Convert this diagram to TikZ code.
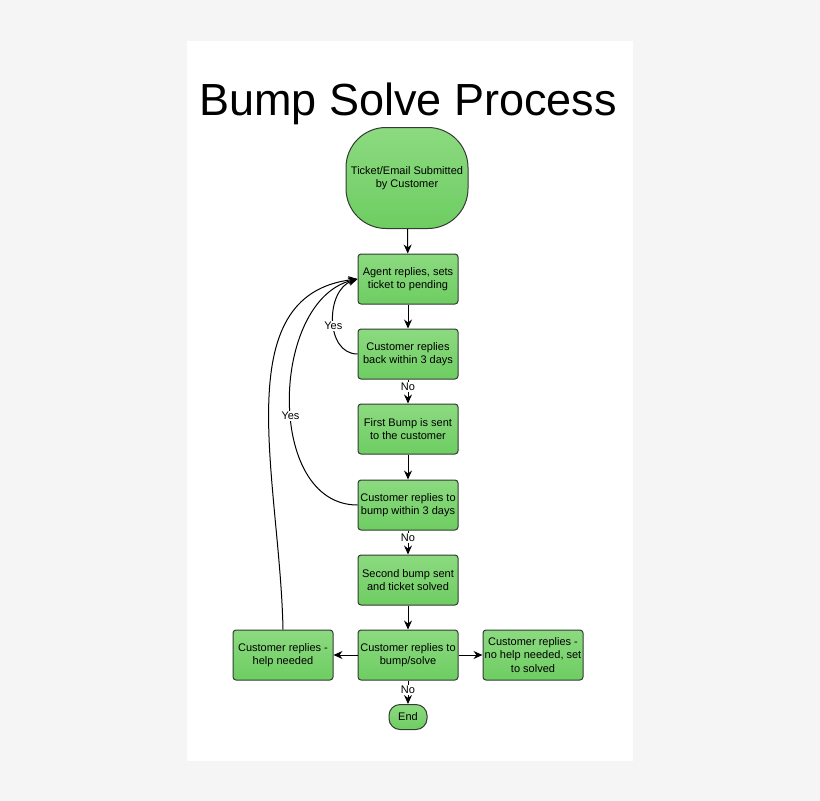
\documentclass[tikz,border=0pt]{standalone}
\usepackage{fontspec}
\setmainfont{Liberation Sans}
\usetikzlibrary{arrows.meta}
\definecolor{bg}{RGB}{245,245,245}
\definecolor{gfill}{RGB}{110,205,98}
\definecolor{gfill2}{RGB}{140,218,128}
\definecolor{edge}{RGB}{50,60,50}
\begin{document}
\begin{tikzpicture}[x=1pt,y=-1pt,
  box/.style={draw=edge,line width=1pt,rounded corners=3pt,top color=gfill2,bottom color=gfill,
    minimum width=100pt,minimum height=50pt,align=center,font=\fontsize{11}{13.5}\selectfont,inner sep=1pt},
  arr/.style={-{Stealth[length=9pt,width=8pt]},line width=1pt,black},
  lab/.style={fill=white,font=\fontsize{11}{12}\selectfont,inner sep=1pt}]
\fill[bg] (0,0) rectangle (820,801);
\useasboundingbox (0,0) rectangle (820,801);
\fill[white] (187,41) rectangle (633,761);
\node[font=\fontsize{45}{52}\selectfont] (title) at (408,104) {Bump Solve Process};
\node[box,minimum width=122pt,minimum height=101pt,rounded corners=40pt] (s) at (407,178) {Ticket/Email Submitted\\by Customer};
\node[box] (a) at (408,279) {Agent replies, sets\\ticket to pending};
\node[box] (b) at (408,354) {Customer replies\\back within 3 days};
\node[box] (c) at (408,429) {First Bump is sent\\to the customer};
\node[box] (d) at (408,505) {Customer replies to\\bump within 3 days};
\node[box] (e) at (408,580) {Second bump sent\\and ticket solved};
\node[box] (f) at (408,655) {Customer replies to\\bump/solve};
\node[box] (l) at (283,655) {Customer replies -\\help needed};
\node[box] (r) at (533,655) {Customer replies -\\no help needed, set\\to solved};
\node[box,minimum width=38pt,minimum height=25pt,rounded corners=11pt] (end) at (408,717) {End};
\draw[arr] (s) -- (a);
\draw[arr] (a) -- (b);
\draw[arr] (b) -- node[lab,pos=0.3]{No} (c);
\draw[arr] (c) -- (d);
\draw[arr] (d) -- node[lab,pos=0.3]{No} (e);
\draw[arr] (e) -- (f);
\draw[arr] (f) -- node[lab,pos=0.4]{No} (end);
\draw[arr] (f) -- (l);
\draw[arr] (f) -- (r);
\draw[arr] (b.west) .. controls (325,354) and (325,290) .. node[lab,pos=0.45]{Yes} (a.west);
\draw[arr] (d.west) .. controls (265,505) and (270,300) .. node[lab,pos=0.45]{Yes} (a.west);
\draw[arr] (l.north) .. controls (280,480) and (225,295) .. (a.west);
\end{tikzpicture}
\end{document}
